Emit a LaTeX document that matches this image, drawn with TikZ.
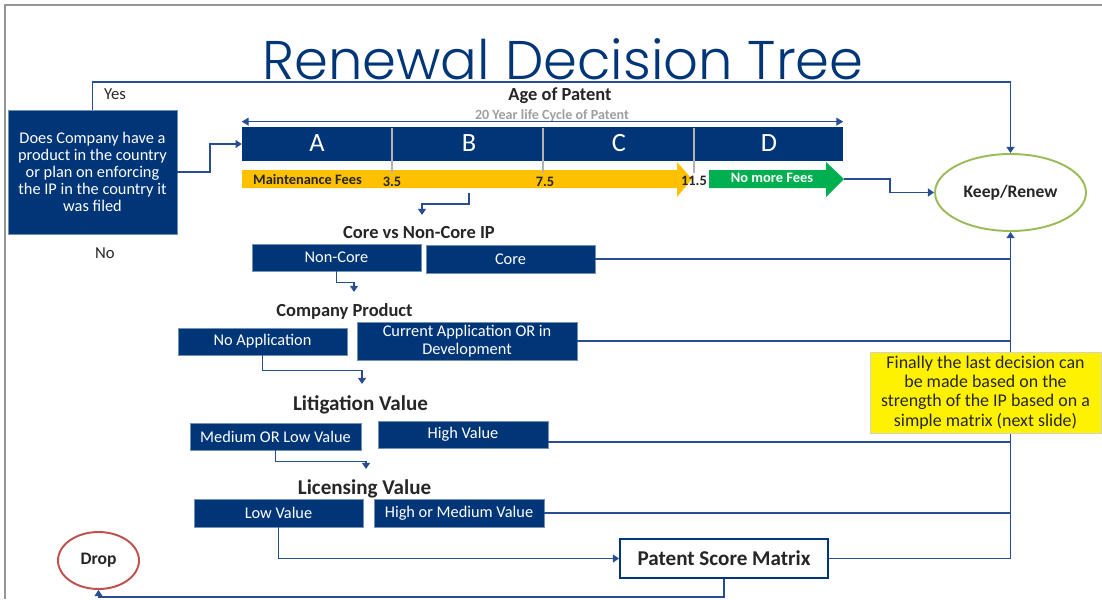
\documentclass[tikz,border=0pt]{standalone}
\usepackage{fontspec}
\setmainfont{Carlito}
\newfontfamily\titlefont{Poppins Light}
\usetikzlibrary{arrows.meta,shapes.geometric}
\definecolor{dblue}{RGB}{0,54,120}
\definecolor{lblue}{RGB}{40,78,145}
\definecolor{orng}{RGB}{255,192,0}
\definecolor{grn}{RGB}{0,176,80}
\definecolor{keepg}{RGB}{155,187,89}
\definecolor{dropr}{RGB}{192,80,77}
\definecolor{framec}{RGB}{150,150,150}
\definecolor{txt}{RGB}{38,38,38}
\begin{document}
\begin{tikzpicture}[x=0.02cm,y=-0.02cm,
  bbox/.style={fill=dblue, draw=dblue!55!white, line width=0.4pt, text=white, inner sep=0pt, align=center, font=\fontsize{9.3}{10}\selectfont},
  conn/.style={draw=lblue, line width=0.9pt},
  arr/.style={conn, -{Triangle[width=4.5pt,length=3.5pt]}},
  hdr/.style={font=\bfseries\fontsize{10.5}{12}\selectfont, text=txt},
  bighdr/.style={font=\bfseries\fontsize{12}{14}\selectfont, text=txt},
  letter/.style={font=\fontsize{15}{18}\selectfont, text=white},
  small/.style={font=\bfseries\fontsize{8.2}{10}\selectfont, text=txt, inner sep=0pt},
  plain/.style={font=\fontsize{9.5}{11}\selectfont, text=txt},
  divider/.style={draw=gray!60, line width=1.6pt},
]
\useasboundingbox (0,0) rectangle (1102,599);
% slide frame
\draw[framec, line width=0.9pt] (5,599) -- (5,5) -- (1102,5);
% title
\node[font=\titlefont\fontsize{31}{36}\selectfont, text=dblue, inner sep=0pt] (title) at (563,59) {Renewal Decision Tree};

% question
\node[bbox, minimum width=3.38cm, minimum height=2.48cm, font=\fontsize{9.3}{9.6}\selectfont] (q) at (92.5,172)
  {Does Company have a\\product in the country\\or plan on enforcing\\the IP in the country it\\was filed};
\node[plain] (yes) at (115,94) {Yes};
\node[plain] (no) at (105,253) {No};

% age bar
\node[hdr, inner sep=0pt] (age) at (560,96) {Age of Patent};
\node[font=\bfseries\fontsize{8}{9}\selectfont, text=gray!75, inner sep=0pt] (life) at (552,115.5) {20 Year life Cycle of Patent};
\node[fill=dblue, minimum width=12.02cm, minimum height=0.68cm, inner sep=0pt] (bar) at (542.5,144) {};
\node[letter] (la) at (317,143) {A};
\node[letter] (lb) at (469,143) {B};
\node[letter] (lc) at (619,143) {C};
\node[letter] (ld) at (769,143) {D};
\fill[orng] (242,170) -- (677,170) -- (677,162) -- (692,179) -- (677,197) -- (677,188) -- (242,188) -- cycle;
\fill[grn] (709,170) -- (826,170) -- (826,162) -- (844,179) -- (826,197) -- (826,188) -- (709,188) -- cycle;
\draw[divider] (392,128) -- (392,173);
\draw[divider] (543,128) -- (543,173);
\draw[divider] (694,128) -- (694,173);
\node[small] (mf) at (307.5,179) {Maintenance Fees};
\node[small] (y35) at (392,181.5) {3.5};
\node[small] (y75) at (545,181.5) {7.5};
\node[small] (y115) at (694,181) {11.5};
\node[small, text=white] (nmf) at (772,178) {No more Fees};
\coordinate (gtip) at (844,179);
\draw[conn, line width=0.8pt, {Triangle[width=4.5pt,length=4pt]}-{Triangle[width=4.5pt,length=4pt]}]
  ([yshift=0.1cm]bar.north west) -- ([yshift=0.1cm]bar.north east);

% outcomes
\node[draw=keepg, line width=1.1pt, ellipse, fill=white, minimum width=3.02cm, minimum height=1.54cm,
  font=\bfseries\fontsize{10}{12}\selectfont, text=txt] (keep) at (1010.5,192.5) {Keep/Renew};
\node[draw=dropr, line width=1.1pt, ellipse, fill=white, minimum width=1.62cm, minimum height=1.14cm,
  font=\bfseries\fontsize{10}{12}\selectfont, text=txt] (drop) at (98.5,560.5) {Drop};

% core
\node[hdr] (coret) at (419,233) {Core vs Non-Core IP};
\node[bbox, minimum width=3.38cm, minimum height=0.54cm] (noncore) at (336.5,257.5) {Non-Core};
\node[bbox, minimum width=3.38cm, minimum height=0.56cm] (core) at (510.5,259) {Core};
% company product
\node[hdr] (cpt) at (344.5,311) {Company Product};
\node[bbox, minimum width=3.38cm, minimum height=0.54cm] (noapp) at (262.5,341.5) {No Application};
\node[bbox, minimum width=4.4cm, minimum height=0.76cm] (curapp) at (467,341) {Current Application OR in\\Development};
% litigation
\node[bighdr] (litt) at (360.5,405) {Litigation Value};
\node[bbox, minimum width=3.42cm, minimum height=0.54cm] (medlow) at (275.5,436.5) {Medium OR Low Value};
\node[bbox, minimum width=3.4cm, minimum height=0.54cm] (high) at (463,434.5) {High Value};
% licensing
\node[bighdr] (lict) at (364.5,489) {Licensing Value};
\node[bbox, minimum width=3.38cm, minimum height=0.56cm] (low) at (278.5,513) {Low Value};
\node[bbox, minimum width=3.4cm, minimum height=0.56cm] (highmed) at (459,513) {High or Medium Value};
% patent score matrix
\node[draw=dblue, line width=1.1pt, fill=white, minimum width=4.16cm, minimum height=0.78cm,
  font=\bfseries\fontsize{12}{14}\selectfont, text=txt] (psm) at (724,558.5) {Patent Score Matrix};

% connectors
\coordinate (yesy) at (0,82);
\draw[arr] (q.north) -- (q.north |- yesy) -- (keep.north |- yesy) -- (keep.north);
\coordinate (j1) at (210,0);
\draw[arr] (q.east) -- (q.east -| j1) |- (bar.west);
\coordinate (j2) at (890,0);
\draw[arr] (gtip) -- (gtip -| j2) |- (keep.west);
\coordinate (ob) at (469,193);
\coordinate (ot) at (422,215);
\draw[arr] (ob) -- ++(0,11) -| (ot);
\coordinate (nct) at (354,292);
\draw[arr] (noncore.south) -- ++(0,11) -| (nct);
\coordinate (nat) at (362,384);
\draw[arr] (noapp.south) -- ++(0,15) -| (nat);
\coordinate (mlt) at (366,469);
\draw[arr] (medlow.south) -- ++(0,11) -| (mlt);
\draw[arr] (low.south) |- (psm.west);

\draw[conn] (core.east) -- (core.east -| keep.south);
\draw[conn] (curapp.east) -- (curapp.east -| keep.south);
\coordinate (hv) at ([yshift=-0.15cm]high.east);
\draw[conn] (hv) -- (hv -| keep.south);
\draw[conn] (highmed.east) -- (highmed.east -| keep.south);
\draw[arr] (psm.east) -- (psm.east -| keep.south) -- (keep.south);
\coordinate (by) at (0,597);
\draw[arr] (psm.south) -- (psm.south |- by) -| (drop.south);

% note
\node[fill=yellow, draw=gray!35, line width=0.4pt, minimum width=4.62cm, minimum height=1.62cm, inner sep=0pt,
  align=center, font=\fontsize{10.2}{10.9}\selectfont, text=txt] (note) at (985.5,392.5)
  {Finally the last decision can\\be made based on the\\strength of the IP based on a\\simple matrix (next slide)};
\end{tikzpicture}
\end{document}
